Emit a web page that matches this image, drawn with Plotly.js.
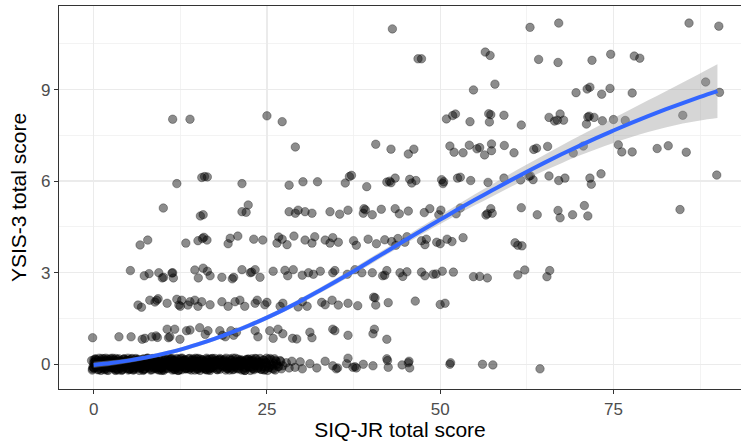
<!DOCTYPE html>
<html>
<head>
<meta charset="utf-8">
<script src="https://cdn.plot.ly/plotly-3.0.1.min.js"></script>
<style>html,body{margin:0;padding:0;background:#fff;}#chart{width:741px;height:443px;}</style>
</head>
<body>
<div id="chart"></div>
<script>
// ---- jittered observations, grouped by YSIS-3 score level ----
const lvl0X = [
-0.3,-0.15,0.0,0.1,0.25,0.35,-0.2,0.05,0.3,0.15,
0.7,0.85,1.0,1.2,1.3,0.9,1.1,0.75,1.35,1.05,
1.65,1.8,2.0,2.15,2.3,1.9,2.25,2.4,1.75,2.05,
2.7,2.85,3.1,3.25,3.35,2.95,3.0,3.2,2.8,3.4,
3.65,3.8,4.0,4.15,4.3,3.9,4.25,4.05,3.7,4.4,
4.7,4.85,5.0,5.2,5.35,4.95,5.1,5.3,4.8,5.25,
5.65,5.8,6.05,6.2,6.35,5.9,6.1,6.3,5.75,6.0,
6.7,6.9,7.05,7.2,7.35,6.8,7.15,7.3,6.95,7.1,
7.65,7.85,8.0,8.2,8.35,7.75,8.1,8.3,7.95,8.25,
8.7,8.85,9.05,9.2,9.35,8.8,9.1,9.3,8.95,9.0,
9.65,9.8,10.0,10.2,10.35,9.9,10.15,10.3,9.75,10.05,
10.7,10.85,11.05,11.2,11.35,10.9,11.15,11.3,10.8,11.0,
11.65,11.85,12.0,12.2,12.35,11.75,12.1,12.3,11.95,12.25,
12.7,12.85,13.05,13.2,13.35,12.8,13.1,13.3,12.95,13.0,
13.65,13.8,14.0,14.2,14.35,13.9,14.1,14.3,13.75,14.05,
14.7,14.85,15.05,15.2,15.35,14.8,15.1,15.3,14.95,15.0,
15.65,15.8,16.0,16.2,16.35,15.9,16.1,16.3,15.75,16.05,
16.7,16.85,17.05,17.2,17.35,16.8,17.1,16.95,
17.65,17.8,18.0,18.2,18.35,17.9,18.1,18.3,
18.7,18.9,19.05,19.2,19.35,18.8,19.15,
19.65,19.85,20.0,20.2,20.35,19.75,20.1,20.3,
20.7,20.85,21.05,21.2,21.35,20.95,21.1,
21.65,21.8,22.0,22.2,22.35,21.9,22.1,22.3,
22.7,22.85,23.05,23.2,23.35,22.95,23.1,
23.65,23.85,24.0,24.2,24.35,23.75,24.1,
24.7,24.85,25.05,25.2,25.35,24.95,25.1,
25.65,25.8,26.0,26.2,26.35,25.9,26.1,
26.7,26.9,27.1,27.8,28.2,
28.6,29.05,29.8,30.1,31.2,32.2,33.4,34.5,35.0,35.2,36.5,36.7,37.4,37.7,37.9,38.9,40.3,
42.3,42.4,42.5,44.5,45.4,45.5,45.6,51.4,51.5,56.1,57.6,64.4,
0.2,-0.1,0.4,0.6,0.95,1.15,1.45,1.6,1.85,2.1,
2.35,2.55,2.75,3.05,3.3,3.55,3.75,3.95,4.2,4.45,
4.6,4.9,5.15,5.4,5.55,5.85,6.15,6.4,6.6,6.85,
7.0,7.25,7.45,7.6,7.9,8.15,8.4,8.55,8.9,9.15,
9.4,9.55,9.85,10.1,10.4,10.6,10.95,11.1,11.4,11.55,
11.8,12.05,12.4,12.6,12.9,13.15,13.4,13.6,13.85,14.15,
14.4,14.6,14.9,15.15,15.4,15.55,15.85,16.15,16.4,16.6,
16.9,17.15,17.4,17.55,17.85,18.15,18.4,18.6,18.95,19.25,
19.45,19.6,19.9,20.15,20.45,20.6,20.9,21.25,21.45,21.6,
21.95,22.25,22.45,22.6,22.9,23.25,23.45,23.6,23.95,24.25,
24.45,24.6,24.9,25.25,25.45,25.6,25.95,26.25,26.45,26.6,
27.0,27.3,0.0,0.45,1.5,2.5,3.5,4.5,5.5,6.5,
7.5,8.5,9.5,10.5,11.5,12.5,13.5,14.5,15.5,16.5,
0.05,0.3,0.55,0.8,1.05,1.25,1.55,1.7,1.95,2.2,
2.45,2.65,2.9,3.15,3.45,3.6,3.85,4.1,4.35,4.55,
4.75,5.05,5.3,5.45,5.7,5.95,6.25,6.45,6.75,6.95,
7.2,7.4,7.7,7.8,8.05,8.3,8.45,8.75,9.0,9.25,
9.5,9.7,9.95,10.25,10.45,10.75,10.9,11.25,11.45,11.7,
11.9,12.15,12.45,12.75,12.95,13.25,13.45,13.7,13.95,14.25,
14.45,14.75,15.0,15.25,15.45,15.7,16.0,16.25,16.45,16.75,
17.0,17.3,17.5,17.75,18.05,18.25,18.5,18.85,19.1,19.3,
19.55,19.8,20.05,20.25,20.55,20.8,21.0,21.3,21.55,21.85,
22.05,22.4,22.65,22.95,23.3,23.55,23.8,24.15,24.55,24.8
];
const lvl0Y = [
0.12,-0.15,0.05,-0.02,0.18,-0.1,-0.19,0.15,-0.06,0.08,
-0.17,0.1,-0.05,0.19,-0.12,0.02,0.14,0.06,-0.08,-0.2,
0.04,-0.14,0.17,-0.06,0.11,-0.19,0.0,-0.1,0.2,0.09,
-0.09,0.16,-0.18,0.07,-0.02,0.13,-0.12,0.19,0.01,-0.16,
0.18,-0.04,0.1,-0.17,0.03,-0.11,0.15,-0.2,-0.07,0.06,
-0.13,0.08,-0.19,0.14,-0.03,0.2,0.0,-0.09,0.12,-0.16,
0.05,-0.18,0.16,-0.07,0.1,-0.12,0.19,-0.01,-0.15,0.08,
-0.1,0.13,-0.02,0.18,-0.16,0.04,-0.2,0.09,0.15,-0.06,
0.17,-0.08,0.11,-0.19,0.02,0.2,-0.13,0.06,-0.04,0.14,
-0.05,0.19,-0.15,0.07,-0.1,0.12,0.0,-0.18,0.16,-0.03,
0.1,-0.2,0.15,-0.06,0.18,-0.13,0.03,0.08,-0.09,-0.17,
-0.14,0.05,-0.01,0.17,-0.19,0.12,-0.08,0.2,0.09,-0.04,
0.13,-0.11,0.19,-0.03,0.07,-0.17,0.16,-0.07,0.01,-0.2,
-0.18,0.09,-0.06,0.14,-0.12,0.2,0.04,-0.15,0.11,-0.01,
0.06,-0.16,0.12,-0.09,0.18,-0.02,-0.19,0.15,0.0,-0.12,
-0.07,0.17,-0.13,0.04,-0.2,0.1,0.19,-0.05,-0.15,0.08,
0.14,-0.1,0.02,-0.18,0.16,-0.04,0.09,0.2,-0.14,-0.01,
-0.16,0.07,0.18,-0.08,0.11,-0.2,0.03,-0.11,
0.12,-0.17,0.05,0.19,-0.06,-0.13,0.15,-0.01,
-0.04,0.16,-0.19,0.08,-0.1,0.13,0.01,
0.18,-0.12,0.04,-0.16,0.1,-0.03,0.2,-0.08,
-0.15,0.09,-0.05,0.15,-0.19,0.02,0.12,
0.07,-0.2,0.14,-0.07,0.17,-0.11,-0.02,0.1,
-0.09,0.18,-0.14,0.05,-0.01,0.12,-0.18,
0.11,-0.06,0.19,-0.16,0.03,-0.12,0.08,
-0.17,0.06,-0.03,0.16,-0.1,0.2,-0.2,
0.15,-0.13,0.02,-0.19,0.09,-0.05,0.18,
-0.08,0.12,-0.15,0.05,-0.12,
0.1,-0.1,0.08,-0.15,0.02,-0.12,0.1,-0.05,-0.15,-0.12,0.02,0.2,-0.1,-0.08,-0.12,0.0,-0.05,
0.18,0.12,-0.1,-0.02,0.05,0.1,-0.12,0.0,0.05,0.0,-0.02,-0.15,
0.0,-0.08,0.14,-0.18,0.07,-0.03,0.18,-0.12,0.1,-0.2,
0.15,-0.05,0.2,-0.14,0.04,-0.19,0.11,0.0,-0.09,0.17,
-0.02,0.13,-0.16,0.06,0.19,-0.1,-0.04,0.14,-0.2,0.09,
0.01,-0.15,0.16,-0.07,0.12,-0.01,-0.18,0.19,-0.11,0.05,
0.17,-0.12,0.06,-0.2,0.13,0.0,-0.06,0.18,-0.15,0.1,
-0.09,0.04,-0.17,0.2,-0.02,0.15,-0.13,0.07,0.19,-0.05,
0.12,-0.19,0.01,-0.1,0.17,-0.06,0.05,-0.16,0.14,0.0,
-0.13,0.19,-0.03,0.1,-0.18,0.03,0.16,-0.09,0.08,-0.14,
0.05,-0.19,0.14,-0.02,0.2,-0.11,0.07,-0.06,0.13,-0.17,
0.02,0.16,-0.1,-0.2,0.11,-0.04,0.18,-0.14,0.06,-0.08,
0.14,-0.19,0.04,-0.11,0.19,-0.02,-0.16,0.12,0.0,-0.07,
0.09,-0.05,-0.11,0.03,-0.04,0.0,0.09,-0.06,0.02,-0.13,
0.06,-0.02,-0.07,0.05,0.03,-0.09,0.02,-0.03,0.1,-0.1,
-0.12,0.16,-0.03,0.2,-0.15,0.08,-0.18,0.12,0.0,-0.09,
0.19,-0.11,0.06,-0.2,0.15,-0.04,0.09,-0.16,0.18,-0.01,
0.11,-0.14,0.03,0.17,-0.19,0.07,-0.08,0.16,-0.12,0.02,
-0.17,0.13,-0.05,0.2,-0.1,0.05,0.18,-0.14,0.1,-0.02,
-0.19,0.08,-0.07,0.15,-0.13,0.19,0.03,-0.1,0.12,-0.18,
0.09,-0.2,0.16,-0.06,0.13,-0.15,0.0,0.18,-0.11,0.06,
-0.04,0.2,-0.17,0.1,-0.08,0.15,-0.13,0.04,-0.19,0.17,
0.07,-0.12,0.19,-0.02,0.14,-0.16,0.09,-0.07,0.2,-0.14,
-0.1,0.12,-0.18,0.05,-0.05,0.17,-0.15,0.1,0.0,-0.2,
0.16,-0.08,0.11,-0.13,0.19,-0.03,0.06,-0.17,0.13,-0.09
];
const lvl1X = [-0.15,3.65,5.4,7.0,7.4,8.4,9.0,9.2,10.6,10.8,11.0,11.7,12.45,13.4,13.9,15.3,16.1,16.5,18.2,18.6,19.0,19.8,20.2,20.6,23.3,23.7,25.4,25.9,26.6,27.3,28.7,29.3,31.2,31.5,34.5,34.8,36.7,40.3,40.5,42.3];
const lvl1Y = [0.87,0.9,0.9,0.82,0.85,0.9,0.93,0.88,1.15,0.87,0.9,1.15,0.82,1.1,1.12,1.2,0.98,1.1,1.1,0.95,0.9,1.1,0.95,1.05,1.1,0.9,1.1,0.85,1.15,1.0,0.85,0.83,1.05,0.87,1.15,1.1,0.95,1.0,1.15,0.82];
const lvl2X = [6.4,6.9,8.1,8.85,9.1,9.3,10.6,12.0,12.3,12.5,12.7,13.6,13.9,14.6,15.05,15.6,16.8,18.5,19.4,20.4,21.1,21.8,23.3,23.6,24.7,25.0,26.9,27.3,29.5,30.1,30.8,32.9,33.4,34.4,35.3,36.7,38.1,40.4,40.6,40.7,42.5,46.4,50.0,50.7];
const lvl2Y = [1.94,1.87,2.1,2.04,2.1,2.15,2.0,2.13,1.94,1.9,2.1,1.94,2.05,2.1,1.9,2.05,1.95,2.05,1.9,2.05,2.1,1.9,2.0,2.1,1.95,2.03,1.9,2.0,1.88,2.05,1.9,2.03,1.95,2.1,1.94,2.0,1.92,2.2,2.18,1.94,2.02,2.07,1.96,2.0];
const lvl3X = [5.3,7.3,8.0,9.4,9.9,10.1,11.3,11.5,11.4,14.6,15.1,15.8,16.4,16.8,18.5,20.0,20.2,21.4,22.6,22.8,23.3,24.0,25.9,27.6,28.0,28.8,30.1,31.0,31.7,32.7,34.5,34.8,36.6,37.7,38.7,40.2,41.7,42.0,42.3,44.2,44.6,45.2,47.3,47.8,49.0,49.4,50.3,51.9,54.8,55.7,56.8,61.2,62.2,65.4,65.8];
const lvl3Y = [3.07,2.9,2.97,3.0,2.83,2.85,2.99,2.83,3.0,3.09,2.83,3.15,3.05,2.9,2.85,2.8,2.85,3.1,3.0,3.02,3.1,2.85,3.05,3.08,2.9,3.1,2.92,3.0,2.95,3.05,3.0,3.07,2.95,3.1,3.0,3.0,2.9,2.92,3.07,3.0,2.88,3.03,3.02,2.9,2.95,2.96,3.05,3.02,2.87,2.88,2.83,2.93,3.09,2.87,3.07];
const lvl4X = [6.7,7.8,13.3,15.05,15.7,15.9,16.35,19.4,19.7,20.8,23.1,24.4,26.45,26.7,27.2,27.9,28.9,30.5,31.5,31.9,33.4,34.1,34.5,35.3,37.5,37.9,39.6,40.8,42.0,43.0,43.6,43.9,44.9,45.2,47.3,47.8,48.0,49.5,50.0,51.0,51.7,53.3,60.8,61.2,61.8];
const lvl4Y = [3.91,4.07,3.97,4.05,4.12,4.16,4.07,3.95,4.13,4.2,4.1,4.07,3.97,4.17,4.1,3.92,4.2,4.07,3.97,4.18,4.07,3.97,4.15,4.0,4.05,3.9,4.1,3.95,4.08,4.02,3.9,4.12,4.0,4.18,4.05,3.92,4.1,4.0,3.95,4.1,4.02,4.15,3.98,3.9,3.88];
const lvl5X = [10.05,15.4,15.8,21.4,22.0,22.3,28.2,29.1,29.5,30.5,31.5,34.1,35.5,36.7,38.9,39.0,39.2,40.2,41.5,43.5,44.1,45.4,47.7,48.5,49.8,50.1,52.3,52.9,56.6,56.8,57.3,57.5,61.7,64.0,67.0,67.3,69.1,70.8,71.3,84.6];
const lvl5Y = [5.12,4.86,4.9,5.0,4.98,5.22,5.0,4.95,5.05,5.0,4.95,5.0,4.92,5.05,4.95,5.1,5.06,4.9,5.08,5.1,4.93,5.02,4.97,5.1,4.9,5.05,4.93,5.12,4.89,4.93,5.1,4.95,5.13,4.9,5.04,4.8,4.9,5.2,4.86,5.07];
const lvl6X = [12.0,15.6,16.0,16.4,21.4,28.2,30.2,32.3,36.3,36.9,37.2,39.4,42.3,42.7,42.9,43.5,45.6,45.9,46.5,50.2,50.4,50.5,52.5,52.9,54.4,56.9,59.2,61.6,62.8,63.0,63.4,65.7,67.1,68.0,71.6,71.8,73.2,89.9];
const lvl6Y = [5.92,6.12,6.15,6.14,5.92,5.87,5.98,5.98,5.94,6.15,6.19,5.82,5.97,6.0,5.95,6.1,6.06,5.94,6.02,6.05,5.92,5.98,6.1,6.13,6.02,5.96,6.1,6.04,6.16,6.18,6.05,6.17,6.02,6.1,6.1,5.9,6.24,6.2];
const lvl7X = [29.1,40.7,42.9,45.4,46.2,51.4,52.0,53.3,54.2,55.3,55.7,56.4,57.4,57.4,59.25,60.65,63.5,63.9,65.5,69.2,70.65,75.7,76.2,77.7,81.3,82.9,85.5];
const lvl7Y = [7.12,7.21,7.05,6.89,7.05,7.15,6.95,6.93,7.18,7.06,7.1,6.86,7.22,7.0,7.17,6.93,7.04,7.08,7.14,6.92,7.15,7.19,6.96,6.96,7.07,7.16,6.95];
const lvl8X = [11.4,13.9,25.0,27.2,50.9,51.8,52.2,54.3,57.0,57.3,57.1,59.2,61.7,65.7,66.5,66.9,67.3,67.8,71.1,71.3,71.5,72.2,73.4,75.0,76.7,85.0];
const lvl8Y = [8.03,8.03,8.14,7.95,8.04,8.15,8.2,7.95,8.21,8.18,7.94,8.16,7.84,8.09,7.97,8.0,8.2,8.0,7.87,8.1,8.13,8.09,7.98,8.02,7.99,8.16];
const lvl9X = [54.8,57.9,69.6,71.2,71.6,73.3,74.5,77.7,88.3,90.3];
const lvl9Y = [8.99,9.18,8.9,9.02,9.08,8.85,9.04,8.89,9.25,8.91];
const lvl10X = [46.8,47.3,56.5,57.2,64.2,67.0,71.9,74.6,78.0,78.8];
const lvl10Y = [10.01,10.01,10.23,10.12,9.99,9.89,9.96,10.16,10.1,10.03];
const lvl11X = [43.1,62.96,67.1,85.9,90.2];
const lvl11Y = [10.99,11.04,11.18,11.18,11.08];

// ---- loess smooth and its standard-error band ----
const smoothX = [0,2.5,5,7.5,10,12.5,15,17.5,20,22.5,25,27.5,30,32.5,35,37.5,40,42.5,45,47.5,50,52.5,55,57.5,60,62.5,65,67.5,70,72.5,75,77.5,80,82.5,85,87.5,90];
const smoothY = [-0.02,0.04,0.12,0.22,0.34,0.48,0.65,0.84,1.05,1.28,1.53,1.8,2.09,2.4,2.72,3.05,3.39,3.73,4.07,4.41,4.74,5.07,5.39,5.7,6.01,6.31,6.6,6.88,7.15,7.41,7.66,7.9,8.13,8.35,8.56,8.76,8.95];
const smoothSE = [0.1,0.09,0.08,0.07,0.07,0.07,0.07,0.07,0.07,0.08,0.08,0.08,0.09,0.09,0.1,0.1,0.11,0.11,0.12,0.13,0.14,0.16,0.18,0.2,0.22,0.24,0.26,0.29,0.32,0.36,0.41,0.46,0.52,0.59,0.67,0.77,0.88];

// ---- axis ticks and labels ----
const xTicks = [0,25,50,75];
const yTicks = [0,3,6,9];
const xTitle = 'SIQ-JR total score';
const yTitle = 'YSIS-3 total score';

const allX = [].concat(lvl0X,lvl1X,lvl2X,lvl3X,lvl4X,lvl5X,lvl6X,lvl7X,lvl8X,lvl9X,lvl10X,lvl11X);
const allY = [].concat(lvl0Y,lvl1Y,lvl2Y,lvl3Y,lvl4Y,lvl5Y,lvl6Y,lvl7Y,lvl8Y,lvl9Y,lvl10Y,lvl11Y);
const lower = smoothY.map((v,i)=>v-smoothSE[i]);
const upper = smoothY.map((v,i)=>v+smoothSE[i]);

const FONT = 'Liberation Sans, Arial, Helvetica, sans-serif';

const traces = [
  {type:'scatter', mode:'markers', x:allX, y:allY, hoverinfo:'skip',
   marker:{size:8.5, color:'rgba(0,0,0,0.45)', line:{color:'rgba(0,0,0,0.3)', width:1}}},
  {type:'scatter', mode:'lines', x:smoothX, y:lower, line:{width:0, shape:'spline'}, hoverinfo:'skip'},
  {type:'scatter', mode:'lines', x:smoothX, y:upper, line:{width:0, shape:'spline'}, fill:'tonexty',
   fillcolor:'rgba(153,153,153,0.4)', hoverinfo:'skip'},
  {type:'scatter', mode:'lines', x:smoothX, y:smoothY, line:{color:'#3366FF', width:4, shape:'spline'}, hoverinfo:'skip'}
];

const layout = {
  width:741, height:443,
  margin:{l:59, r:0, t:6, b:54},
  paper_bgcolor:'#ffffff', plot_bgcolor:'#ffffff',
  showlegend:false,
  font:{family:FONT, color:'#000000'},
  xaxis:{
    range:[-5.0, 93.4], tickmode:'array', tickvals:xTicks, ticktext:xTicks.map(String),
    showgrid:true, gridcolor:'#ebebeb', gridwidth:1.4,
    minor:{tickmode:'array', tickvals:[12.5,37.5,62.5,87.5], showgrid:true, gridcolor:'#f0f0f0', gridwidth:0.8},
    zeroline:false, showline:true, mirror:true, linecolor:'#333333', linewidth:1.1,
    ticks:'outside', ticklen:4, tickwidth:1.1, tickcolor:'#333333',
    tickfont:{family:FONT, size:17, color:'#4d4d4d'},
    title:{text:xTitle, font:{family:FONT, size:21, color:'#000000'}, standoff:3}
  },
  yaxis:{
    range:[-0.81, 11.74], tickmode:'array', tickvals:yTicks, ticktext:yTicks.map(String),
    showgrid:true, gridcolor:'#ebebeb', gridwidth:1.4,
    minor:{tickmode:'array', tickvals:[1.5,4.5,7.5,10.5], showgrid:true, gridcolor:'#f0f0f0', gridwidth:0.8},
    zeroline:false, showline:true, mirror:false, linecolor:'#333333', linewidth:1.1,
    ticks:'outside', ticklen:4, tickwidth:1.1, tickcolor:'#333333',
    tickfont:{family:FONT, size:17, color:'#4d4d4d'},
    title:{text:yTitle, font:{family:FONT, size:21, color:'#000000'}, standoff:8}
  }
};

Plotly.newPlot('chart', traces, layout, {staticPlot:true, displayModeBar:false});
</script>
</body>
</html>
